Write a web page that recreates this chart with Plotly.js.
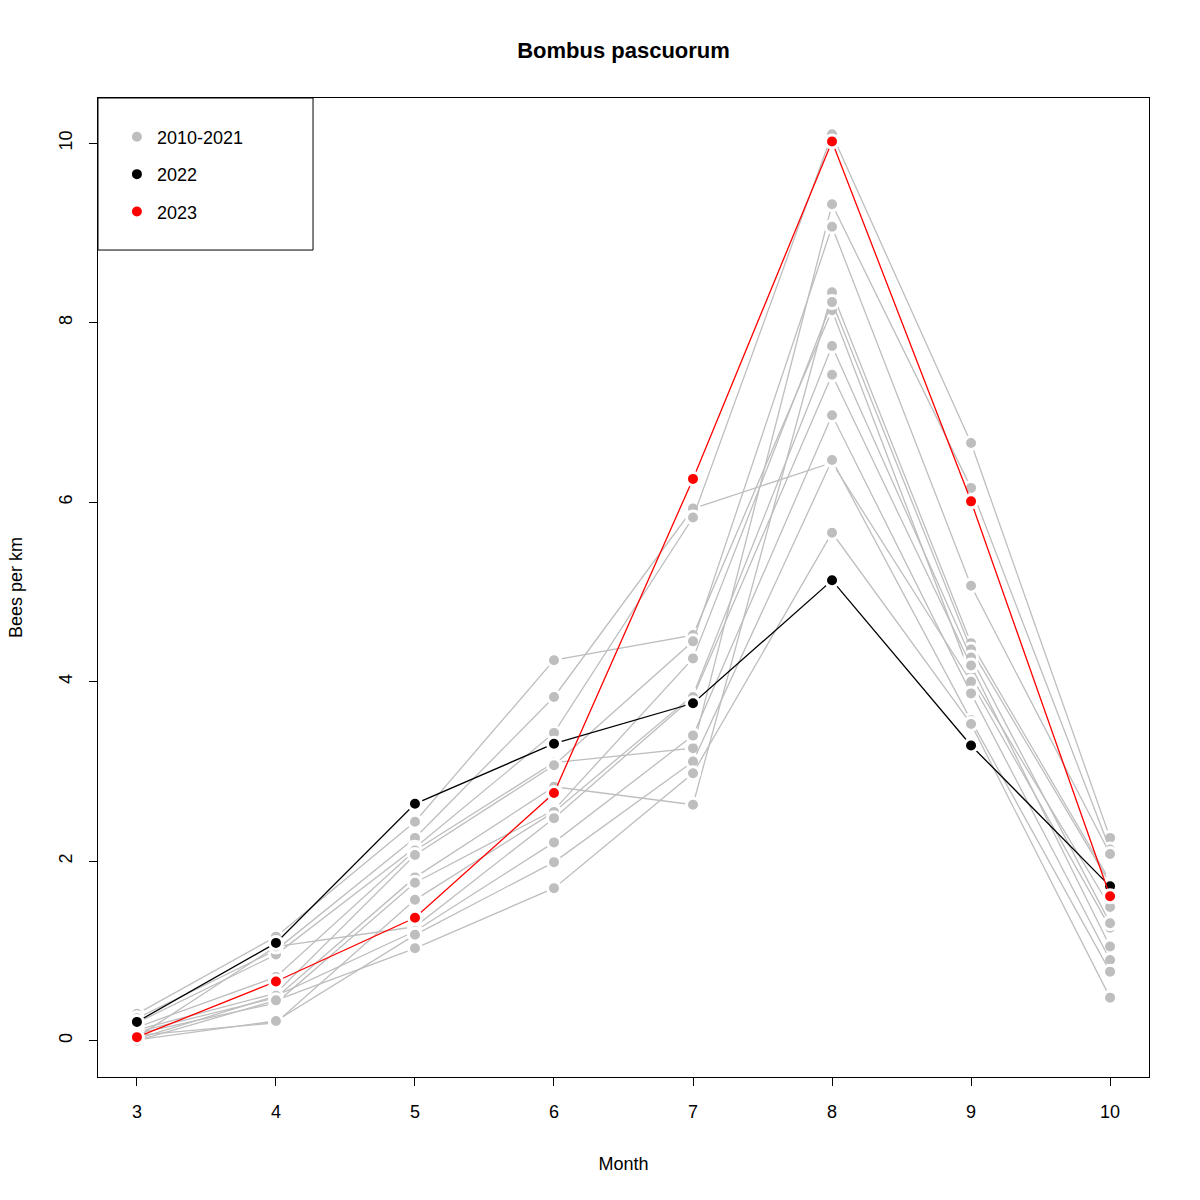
<!DOCTYPE html>
<html>
<head>
<meta charset="utf-8">
<script src="https://cdn.plot.ly/plotly-3.0.1.min.js"></script>
<style>
  body { margin: 0; background: #fff; }
  #chart { width: 1200px; height: 1200px; }
</style>
</head>
<body>
<div id="chart"></div>
<script>
const months = [3, 4, 5, 6, 7, 8, 9, 10];

// bees per km, one row per year 2010-2021
const past = [
    [0.30, 1.16, 2.44, 4.24, 4.52, 8.14, 4.06, 1.49],
    [0.25, 1.01, 2.26, 3.83, 5.93, 6.44, 4.00, 1.26],
    [0.20, 0.96, 2.15, 3.43, 5.83, 10.10, 6.66, 2.26],
    [0.15, 0.71, 2.12, 3.10, 3.26, 9.32, 6.16, 2.13],
    [0.12, 0.53, 2.07, 3.07, 4.45, 9.07, 5.07, 2.08],
    [0.10, 0.48, 1.82, 2.83, 2.63, 8.34, 4.43, 1.78],
    [0.08, 0.42, 1.76, 2.57, 4.26, 8.23, 4.36, 1.75],
    [0.06, 0.20, 1.57, 2.55, 3.85, 7.74, 4.27, 1.31],
    [0.04, 1.05, 1.27, 2.48, 3.83, 7.42, 4.18, 1.05],
    [0.02, 0.50, 1.22, 2.21, 3.40, 6.97, 3.87, 0.90],
    [0.01, 0.22, 1.18, 1.99, 3.11, 6.47, 3.57, 0.77],
    [0.00, 0.45, 1.03, 1.70, 2.98, 5.66, 3.53, 0.48]
];
const y2022 = [0.21, 1.09, 2.64, 3.31, 3.76, 5.13, 3.29, 1.72];
const y2023 = [0.04, 0.66, 1.37, 2.76, 6.26, 10.02, 6.01, 1.61];

const GREY = '#bebebe';

// R type="b": line with gaps round the points -> white ring on the markers
function series(y, color, name, legend, group) {
    return [
        {
            x: months, y: y, type: 'scatter', mode: 'lines',
            line: { color: color, width: 1.3 },
            hoverinfo: 'skip', showlegend: false
        },
        {
            x: months, y: y, type: 'scatter', mode: 'markers',
            marker: { color: color, size: 13, line: { color: '#fff', width: 3 } },
            name: name, showlegend: legend, legendgroup: group
        }
    ];
}

let data = [];
past.forEach((row, i) => {
    data = data.concat(series(row, GREY, '2010-2021', i === 0, 'g'));
});
data = data.concat(series(y2022, '#000000', '2022', true, 'b'));
data = data.concat(series(y2023, '#ff0000', '2023', true, 'r'));

const font = { family: 'Liberation Sans, Arial, sans-serif', size: 18, color: '#000' };

const layout = {
    width: 1200,
    height: 1200,
    font: font,
    paper_bgcolor: '#fff',
    plot_bgcolor: '#fff',
    margin: { l: 98, r: 51, t: 98, b: 123 },
    title: {
        text: '<b>Bombus pascuorum</b>',
        font: { family: font.family, size: 22 },
        x: 0.5196, xanchor: 'center', y: 0.958, yanchor: 'middle'
    },
    xaxis: {
        range: [2.72, 10.28],
        tickvals: months,
        ticks: 'outside', ticklen: 8, tickcolor: '#000',
        ticklabelstandoff: 10,
        showgrid: false, zeroline: false,
        showline: true, mirror: true, linecolor: '#000', linewidth: 1,
        title: { text: 'Month', font: { size: 18 }, standoff: 36 }
    },
    yaxis: {
        range: [-0.404, 10.504],
        tickvals: [0, 2, 4, 6, 8, 10],
        tickangle: -90,
        ticks: 'outside', ticklen: 8, tickcolor: '#000',
        ticklabelstandoff: 10,
        showgrid: false, zeroline: false,
        showline: true, mirror: true, linecolor: '#000', linewidth: 1,
        title: { text: 'Bees per km', font: { size: 18 }, standoff: 28 }
    },
    showlegend: true,
    legend: {
        x: 0.018, y: 0.979, xanchor: 'left', yanchor: 'top',
        bgcolor: 'rgba(0,0,0,0)', borderwidth: 0,
        font: { size: 18 },
        traceorder: 'grouped', tracegroupgap: 11
    },
    shapes: [{
        type: 'rect', xref: 'paper', yref: 'paper',
        x0: 0, x1: 0.2046, y0: 0.8447, y1: 1,
        line: { color: '#000', width: 1 }
    }]
};

Plotly.newPlot('chart', data, layout, { displayModeBar: false, staticPlot: true });
</script>
</body>
</html>
